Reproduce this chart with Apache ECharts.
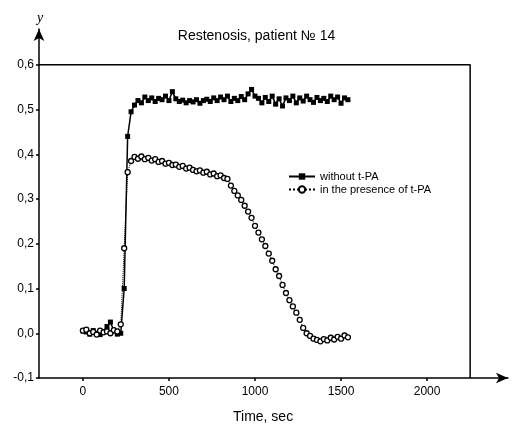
<!DOCTYPE html>
<html>
<head>
<meta charset="utf-8">
<script src="https://cdn.jsdelivr.net/npm/echarts@6/dist/echarts.min.js"></script>
<style>
  html, body { margin: 0; padding: 0; background: #fff; }
  #chart { width: 513px; height: 424px; }
</style>
</head>
<body>
<div id="chart"></div>
<script>
// time, sec
var times = [
  0, 20, 40, 60, 80, 100, 120, 140, 160, 180,
  200, 220, 240, 260, 280, 300, 320, 340, 360, 380,
  400, 420, 440, 460, 480, 500, 520, 540, 560, 580,
  600, 620, 640, 660, 680, 700, 720, 740, 760, 780,
  800, 820, 840, 860, 880, 900, 920, 940, 960, 980,
  1000, 1020, 1040, 1060, 1080, 1100, 1120, 1140, 1160, 1180,
  1200, 1220, 1240, 1260, 1280, 1300, 1320, 1340, 1360, 1380,
  1400, 1420, 1440, 1460, 1480, 1500, 1520, 1540
];
// without t-PA
var noTpa = [
  0.005, 0.003, -0.002, 0.006, 0.000, -0.003, 0.004, 0.015, 0.025, 0.005,
  -0.002, 0.000, 0.100, 0.440, 0.495, 0.510, 0.520, 0.515, 0.528, 0.520,
  0.526, 0.518, 0.525, 0.522, 0.530, 0.520, 0.540, 0.524, 0.518, 0.521,
  0.515, 0.520, 0.517, 0.522, 0.514, 0.520, 0.523, 0.518, 0.526, 0.520,
  0.528, 0.522, 0.530, 0.518, 0.525, 0.520, 0.529, 0.522, 0.535, 0.545,
  0.530, 0.525, 0.515, 0.527, 0.518, 0.530, 0.512, 0.524, 0.508, 0.526,
  0.520, 0.530, 0.515, 0.526, 0.519, 0.530, 0.522, 0.516, 0.527, 0.520,
  0.525, 0.518, 0.530, 0.522, 0.528, 0.514, 0.526, 0.522
];
// in the presence of t-PA
var withTpa = [
  0.006, 0.008, 0.000, 0.003, -0.003, 0.006, 0.002, 0.004, 0.000, 0.007,
  0.004, 0.020, 0.190, 0.360, 0.385, 0.394, 0.390, 0.395, 0.389, 0.392,
  0.386, 0.389, 0.383, 0.385, 0.379, 0.381, 0.376, 0.377, 0.372, 0.374,
  0.368, 0.370, 0.365, 0.362, 0.364, 0.359, 0.361, 0.355, 0.357, 0.351,
  0.353, 0.347, 0.345, 0.330, 0.318, 0.308, 0.298, 0.285, 0.272, 0.258,
  0.240, 0.225, 0.210, 0.195, 0.178, 0.162, 0.143, 0.128, 0.108, 0.090,
  0.074, 0.060, 0.046, 0.030, 0.012, 0.000, -0.006, -0.012, -0.015, -0.018,
  -0.013, -0.016, -0.010, -0.014, -0.008, -0.012, -0.005, -0.009
];
var xTicks = [0, 500, 1000, 1500, 2000];
var yTicks = [-0.1, 0, 0.1, 0.2, 0.3, 0.4, 0.5, 0.6];
// plot frame (top and right edges)
var frameX = [-255, 2250, 2250];
var frameY = [0.6, 0.6, -0.1];

function pairs(xs, ys) {
  var out = [];
  for (var i = 0; i < xs.length; i++) out.push([xs[i], ys[i]]);
  return out;
}

var chart = echarts.init(document.getElementById('chart'));
var font = 'Liberation Sans, Arial, sans-serif';

var option = {
  animation: false,
  backgroundColor: '#fff',
  title: [
    {
      text: 'Restenosis, patient № 14',
      left: 'center',
      top: 24,
      textStyle: { fontFamily: font, fontSize: 14, fontWeight: 'normal', color: '#000' }
    },
    {
      text: 'Time, sec',
      left: 228,
      top: 405,
      textStyle: { fontFamily: font, fontSize: 14, fontWeight: 'normal', color: '#000' }
    }
  ],
  legend: {
    data: ['without t-PA', 'in the presence of t-PA'],
    orient: 'vertical',
    left: 283,
    top: 166,
    itemWidth: 26,
    itemHeight: 8,
    itemGap: 2,
    textStyle: { fontFamily: font, fontSize: 11, color: '#000' }
  },
  grid: { left: 39, right: 5, top: 29, bottom: 46 },
  xAxis: {
    type: 'value',
    min: -255,
    max: 2470,
    splitLine: { show: false },
    axisLine: {
      onZero: false,
      symbol: ['none', 'arrow'],
      symbolSize: [8, 12],
      lineStyle: { color: '#000', width: 1.5 }
    },
    axisTick: { customValues: xTicks, length: 3, lineStyle: { color: '#000', width: 1.5 } },
    axisLabel: {
      customValues: xTicks,
      margin: 8,
      fontFamily: font,
      fontSize: 12,
      color: '#000',
      formatter: function (v) { return String(v); }
    }
  },
  yAxis: {
    type: 'value',
    min: -0.1,
    max: 0.68,
    name: 'y',
    nameLocation: 'end',
    nameGap: 4,
    nameTextStyle: { fontFamily: 'Liberation Serif, DejaVu Serif, serif', fontStyle: 'italic', fontSize: 14, color: '#000', padding: [0, 0, 0, 2] },
    splitLine: { show: false },
    axisLine: {
      onZero: false,
      symbol: ['none', 'arrow'],
      symbolSize: [8, 12],
      lineStyle: { color: '#000', width: 1.5 }
    },
    axisTick: { customValues: yTicks, length: 3, lineStyle: { color: '#000', width: 1.5 } },
    axisLabel: {
      customValues: yTicks,
      margin: 5,
      fontFamily: font,
      fontSize: 12,
      color: '#000',
      formatter: function (v) { return v.toFixed(1).replace('.', ','); }
    }
  },
  series: [
    {
      name: 'frame',
      type: 'line',
      silent: true,
      symbol: 'none',
      data: pairs(frameX, frameY),
      lineStyle: { color: '#000', width: 1.5 }
    },
    {
      name: 'without t-PA',
      type: 'line',
      data: pairs(times, noTpa),
      symbol: 'rect',
      symbolSize: 5,
      showAllSymbol: true,
      itemStyle: { color: '#000' },
      lineStyle: { color: '#000', width: 1.5 }
    },
    {
      name: 'in the presence of t-PA',
      type: 'line',
      data: pairs(times, withTpa),
      symbol: 'circle',
      symbolSize: 5,
      showAllSymbol: true,
      itemStyle: { color: '#fff', borderColor: '#000', borderWidth: 1.3 },
      lineStyle: { color: '#000', width: 1, type: 'dotted' }
    }
  ]
};

chart.setOption(option);
</script>
</body>
</html>
